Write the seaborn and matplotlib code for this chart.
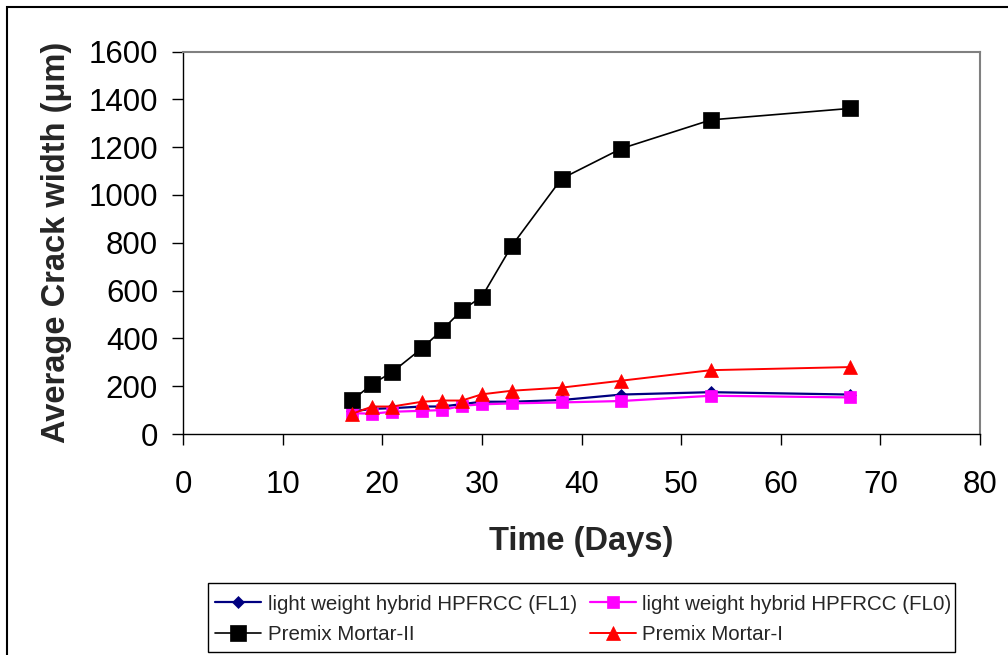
import matplotlib
matplotlib.use("Agg")
import matplotlib.pyplot as plt
import matplotlib.patches as mpatches
import seaborn as sns
import pandas as pd

# ---- data ----
days = [17, 19, 21, 24, 26, 28, 30, 33, 38, 44, 53, 67]
fl1 = [95, 105, 108, 115, 115, 125, 135, 135, 142, 165, 175, 165]
fl0 = [87, 85, 93, 97, 100, 118, 124, 128, 132, 138, 160, 153]
premix_ii = [142, 209, 259, 359, 435, 518, 574, 787, 1068, 1194, 1314, 1362]
premix_i = [85, 115, 115, 135, 140, 140, 166, 181, 194, 223, 267, 280]

series_names = ["light weight hybrid HPFRCC (FL1)",
                "light weight hybrid HPFRCC (FL0)",
                "Premix Mortar-II",
                "Premix Mortar-I"]
x_ticks = [0, 10, 20, 30, 40, 50, 60, 70, 80]
y_ticks = [0, 200, 400, 600, 800, 1000, 1200, 1400, 1600]

sns.set_style("white")
plt.rcParams["font.family"] = ["Liberation Sans", "DejaVu Sans"]

fig = plt.figure(figsize=(10.08, 6.55), dpi=100)
ax = fig.add_axes([183 / 1008, 1 - 434 / 655, (980 - 183) / 1008, (434 - 51.5) / 655])

styles = [
    dict(color="#000080", marker="D", markersize=6.5, linewidth=1.6),
    dict(color="#FF00FF", marker="s", markersize=8, linewidth=1.6),
    dict(color="black", marker="s", markersize=11.5, linewidth=1.2),
    dict(color="#FF0000", marker="^", markersize=10, linewidth=1.4),
]
values = [fl1, fl0, premix_ii, premix_i]

handles = []
for name, vals, st in zip(series_names, values, styles):
    df = pd.DataFrame({"Time": days, "Width": vals})
    sns.lineplot(data=df, x="Time", y="Width", ax=ax, sort=False,
                 color=st["color"], marker=st["marker"],
                 markersize=st["markersize"], linewidth=st["linewidth"],
                 markeredgecolor=st["color"], markeredgewidth=0.5,
                 label=name, legend=False)
    handles.append(ax.lines[-1])

ax.set_xlim(0, 80)
ax.set_ylim(0, 1600)
ax.set_xticks(x_ticks)
ax.set_yticks(y_ticks)
ax.tick_params(axis="both", direction="out", length=8, width=1,
               labelsize=22.5, color="black", labelcolor="black")
ax.tick_params(axis="x", pad=18)
ax.tick_params(axis="y", pad=10)
ax.tick_params(bottom=True, left=True)

for s in ["left", "bottom"]:
    ax.spines[s].set_color("black")
    ax.spines[s].set_linewidth(1.0)
for s in ["top", "right"]:
    ax.spines[s].set_color("#808080")
    ax.spines[s].set_linewidth(1.5)

ax.set_xlabel("Time (Days)", fontsize=23.5, fontweight="bold")
ax.set_ylabel("Average Crack width (\u03bcm)", fontsize=23.5, fontweight="bold")
ax.xaxis.set_label_coords(0.5, -0.24)
ax.yaxis.set_label_coords(-0.139, 0.5)

# legend: row-major order as in the reference (matplotlib fills column-major)
order = [0, 2, 1, 3]
leg = fig.legend([handles[i] for i in order], [series_names[i] for i in order],
                 loc="upper left",
                 bbox_to_anchor=(209 / 1008, 1 - 588.5 / 655),
                 ncol=2, fontsize=14.8, frameon=False,
                 borderaxespad=0, handlelength=2.25, handletextpad=0.3,
                 labelspacing=0.55, borderpad=0.3, columnspacing=0.64)

# legend frame
fig.patches.append(mpatches.Rectangle((208 / 1008, 1 - 652 / 655), (955 - 208) / 1008, 69 / 655,
                                      transform=fig.transFigure, fill=False,
                                      edgecolor="black", linewidth=1.0))

# outer frame around the chart (top-left visible, rest cut off)
fig.patches.append(mpatches.Rectangle((7 / 1008, -0.1), 1.2, 1 - 7 / 655 + 0.1,
                                      transform=fig.transFigure, fill=False,
                                      edgecolor="black", linewidth=1.5))

fig.savefig("out.png", dpi=100)
